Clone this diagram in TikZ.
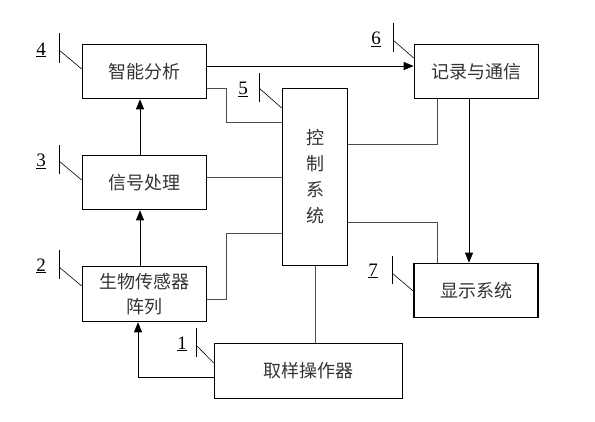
\documentclass[tikz,border=0pt]{standalone}
\usepackage{fontspec}
\setmainfont{Liberation Serif}
\newfontfamily\cjk{Noto Sans CJK SC}
\usetikzlibrary{arrows.meta,calc}

\tikzset{every picture/.style={line width=0.75pt}}
\tikzset{
  blockbox/.style={draw, line width=1.6pt, minimum width=124pt, minimum height=54pt,
    inner sep=0pt, align=center, text=black!80, font=\cjk\fontsize{18}{25}\selectfont},
  wire/.style={draw=black!70, line width=0.8pt},
  flow/.style={line width=0.8pt, -{Triangle[length=10pt,width=8pt]}},
  lead/.style={line width=0.6pt},
  tagnum/.style={inner sep=0pt, font=\fontsize{19}{20}\selectfont}
}

\begin{document}
\begin{tikzpicture}[x=1pt,y=1pt,yscale=-1,xscale=1]
	\useasboundingbox (0,0) rectangle (595,421);
	
	%Shape: Box [smart]
	\node[blockbox] (smart) at (144.5,71.5) {智能分析};
	%Shape: Box [signal]
	\node[blockbox] (signal) at (144.5,182.5) {信号处理};
	%Shape: Box [sensor]
	\node[blockbox, minimum height=55pt] (sensor) at (144.5,294) {生物传感器\\阵列};
	%Shape: Box [sampler]
	\node[blockbox, minimum width=188pt, minimum height=55pt] (sampler) at (308.5,371) {取样操作器};
	%Shape: Box [ctrl]
	\node[blockbox, minimum width=65pt, minimum height=177pt, font=\cjk\fontsize{18}{26}\selectfont] (ctrl) at (315,177) {控\\制\\系\\统};
	%Shape: Box [record]
	\node[blockbox] (record) at (476.5,71.5) {记录与通信};
	%Shape: Box [display]
	\node[blockbox] (display) at (476,290.5) {显示系统};
	
	%Straight Lines [smart to record]
	\coordinate (s4) at ($(smart.east)+(0,-5.5)$);
	\draw[flow] (s4) -- (s4 -| record.west);
	%Straight Lines [smart to ctrl]
	\coordinate (s4b) at ($(smart.east)+(0,16.5)$);
	\coordinate (b4) at (226,122);
	\draw[wire] (s4b) -| (b4) -- (b4 -| ctrl.west);
	%Straight Lines [signal to ctrl]
	\coordinate (s3) at ($(signal.east)+(0,-5.5)$);
	\draw[wire] (s3) -- (s3 -| ctrl.west);
	%Straight Lines [sensor to ctrl]
	\coordinate (s2) at ($(sensor.east)+(0,5)$);
	\coordinate (b2) at (226,233);
	\draw[wire] (s2) -| (b2) -- (b2 -| ctrl.west);
	%Straight Lines [signal to smart]
	\draw[flow] ($(signal.north)+(-4.5,0)$) -- ($(smart.south)+(-4.5,0)$);
	%Straight Lines [sensor to signal]
	\draw[flow] ($(sensor.north)+(-4.5,0)$) -- ($(signal.south)+(-4.5,0)$);
	%Straight Lines [sampler to sensor]
	\coordinate (s1) at ($(sampler.west)+(0,6)$);
	\draw[flow] (s1) -| ($(sensor.south)+(-6.5,0)$);
	%Straight Lines [ctrl to sampler]
	\draw[wire] (ctrl.south) -- (ctrl.south |- sampler.north);
	%Straight Lines [ctrl to record]
	\coordinate (c6) at (437,144);
	\draw[wire] (c6 -| ctrl.east) -- (c6) -- (c6 |- record.south);
	%Straight Lines [ctrl to display]
	\coordinate (c7) at (437,222);
	\draw[wire] (c7 -| ctrl.east) -- (c7) -- (c7 |- display.north);
	%Straight Lines [record to display]
	\coordinate (r6) at ($(record.south)+(-7.5,0)$);
	\draw[flow] (r6) -- (r6 |- display.north);
	
	% Leader [4]
	\coordinate (k4) at (59,50);
	\draw[lead] ($(k4)+(0,-17)$) -- ($(k4)+(0,13)$);
	\draw[lead] (k4) -- ($(k4 -| smart.west)+(0,19)$);
	% Leader [3]
	\coordinate (k3) at (59,161);
	\draw[lead] ($(k3)+(0,-16)$) -- ($(k3)+(0,13)$);
	\draw[lead] (k3) -- ($(k3 -| signal.west)+(0,19)$);
	% Leader [2]
	\coordinate (k2) at (59,267);
	\draw[lead] ($(k2)+(0,-17)$) -- ($(k2)+(0,12)$);
	\draw[lead] (k2) -- ($(k2 -| sensor.west)+(0,19)$);
	% Leader [1]
	\coordinate (k1) at (196,345);
	\draw[lead] ($(k1)+(0,-17)$) -- ($(k1)+(0,12)$);
	\draw[lead] (k1) -- ($(k1 -| sampler.west)+(0,18)$);
	% Leader [5]
	\coordinate (k5) at (259,88);
	\draw[lead] ($(k5)+(0,-15)$) -- ($(k5)+(0,14)$);
	\draw[lead] (k5) -- ($(k5 -| ctrl.west)+(0,20)$);
	% Leader [6]
	\coordinate (k6) at (393,40);
	\draw[lead] ($(k6)+(0,-17)$) -- ($(k6)+(0,12)$);
	\draw[lead] (k6) -- ($(k6 -| record.west)+(0,18)$);
	% Leader [7]
	\coordinate (k7) at (392,273);
	\draw[lead] ($(k7)+(0,-17)$) -- ($(k7)+(0,11)$);
	\draw[lead] (k7) -- ($(k7 -| display.west)+(0,18)$);
	
	% Text Node
	\node[tagnum] (n4) at (41,50) {\underline{4}};
	% Text Node
	\node[tagnum] (n3) at (41,161) {\underline{3}};
	% Text Node
	\node[tagnum] (n2) at (41,266) {\underline{2}};
	% Text Node
	\node[tagnum] (n1) at (182,344) {\underline{1}};
	% Text Node
	\node[tagnum] (n5) at (243,89) {\underline{5}};
	% Text Node
	\node[tagnum] (n6) at (376,39) {\underline{6}};
	% Text Node
	\node[tagnum] (n7) at (373,271) {\underline{7}};
	
\end{tikzpicture}
\end{document}
